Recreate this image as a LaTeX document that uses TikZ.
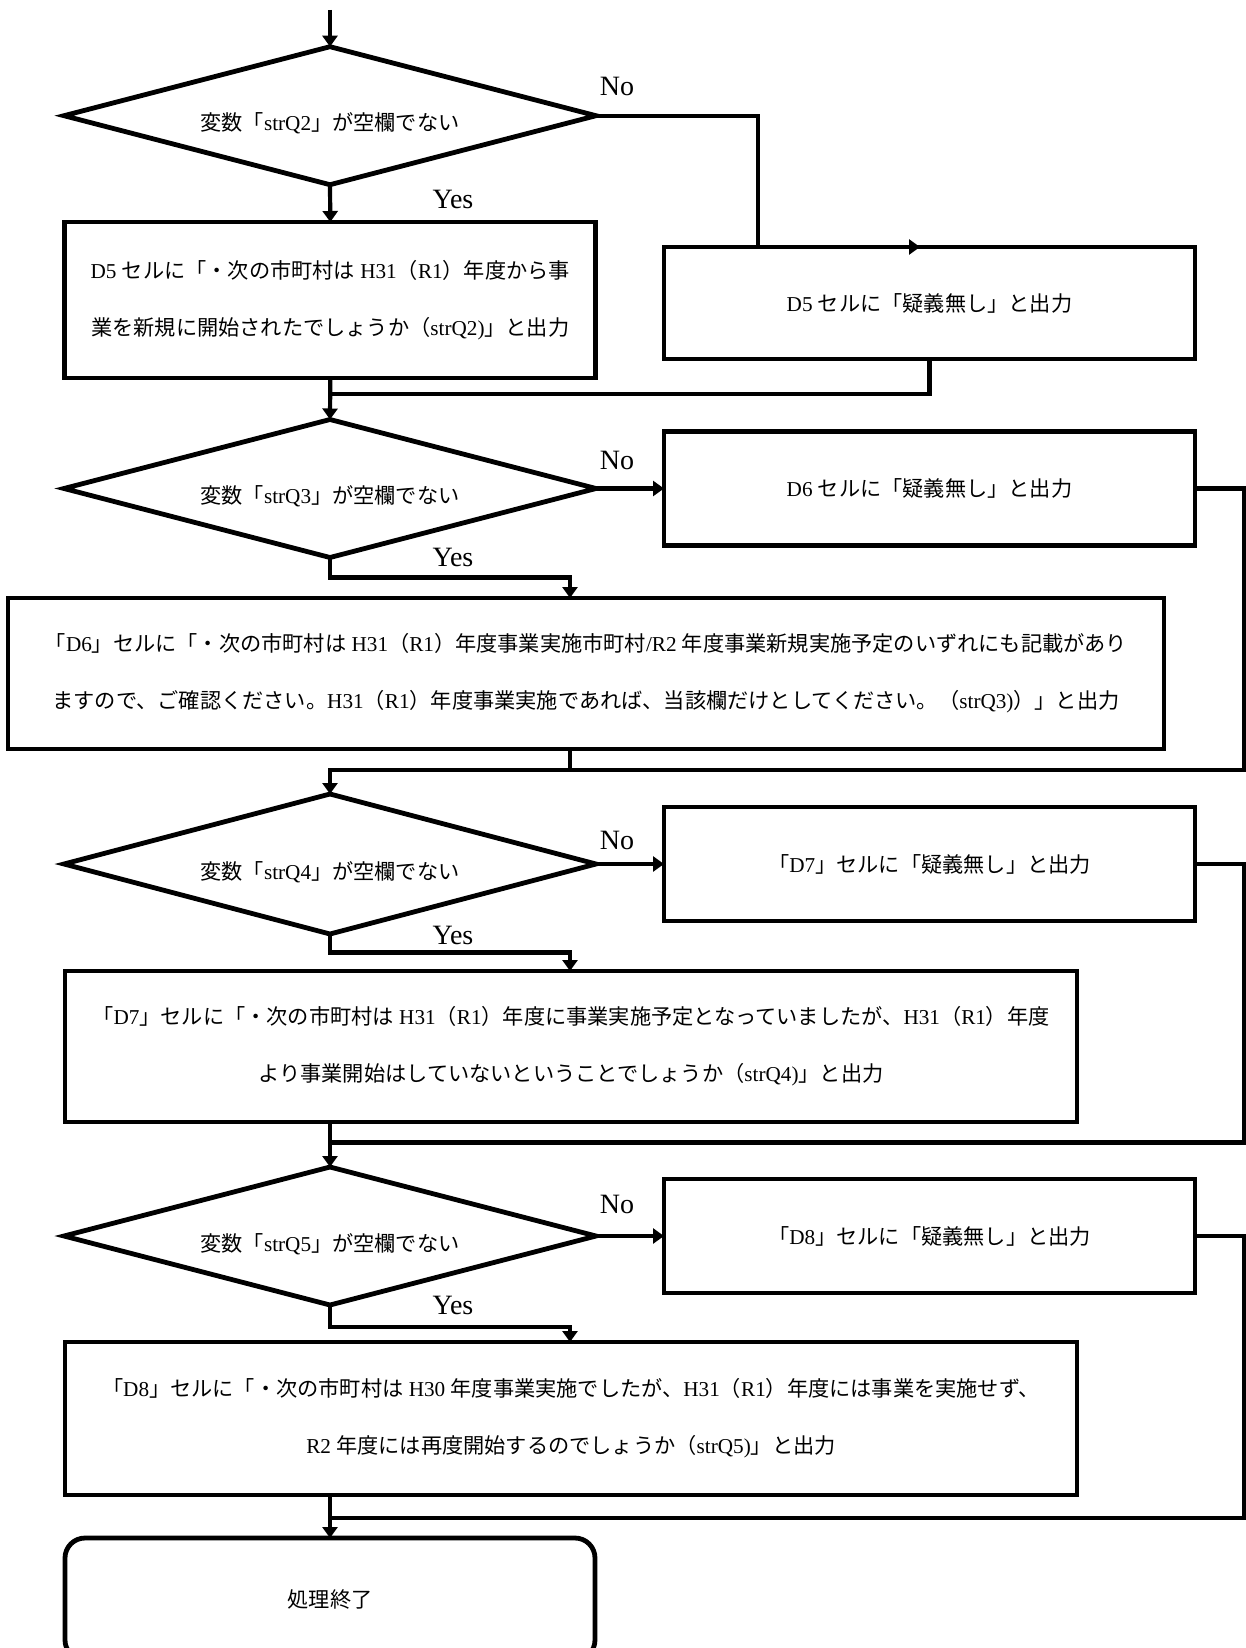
\documentclass[tikz,border=0pt]{standalone}
\usepackage{fontspec}
\setmainfont{Liberation Serif}
\newfontfamily\cjkfont{Noto Sans CJK JP}
\newfontfamily\latfont{Liberation Serif}
\usetikzlibrary{shapes.geometric,arrows.meta}
% automatic font switching between Latin and CJK characters
\XeTeXinterchartokenstate=1
\newXeTeXintercharclass\cjkc
\newcount\mycnt
\mycnt="3000
\loop
  \XeTeXcharclass\mycnt=\cjkc
  \ifnum\mycnt<"9FFF \advance\mycnt by 1 \repeat
\mycnt="FF00
\loop
  \XeTeXcharclass\mycnt=\cjkc
  \ifnum\mycnt<"FFEF \advance\mycnt by 1 \repeat
\XeTeXinterchartoks 0 \cjkc = {\cjkfont}
\XeTeXinterchartoks 4095 \cjkc = {\cjkfont}
\XeTeXinterchartoks \cjkc 0 = {\latfont}
\XeTeXinterchartoks \cjkc 4095 = {\latfont}
\newcommand\boxfont{\fontsize{21.2}{57}\selectfont}
\newcommand\ynfont{\fontsize{28}{30}\selectfont}
\tikzset{
  box/.style={draw, rectangle, line width=4.8pt, inner sep=0pt, outer sep=0pt, align=center, font=\boxfont},
  dia/.style={draw, diamond, aspect=3.85, line width=4.8pt, inner sep=0pt, outer sep=0pt,
              minimum width=532pt, minimum height=138pt, text height=30pt, text depth=0pt, font=\boxfont},
  term/.style={box, rounded corners=20pt},
  conn/.style={line width=4.2pt},
  arr/.style={conn, -{Triangle[length=11pt,width=15pt]}},
  yn/.style={font=\ynfont, inner sep=0pt, anchor=base}
}
\begin{document}
\begin{tikzpicture}[x=1pt,y=-1pt]
\useasboundingbox (0,0) rectangle (1246,1648);
\clip (0,0) rectangle (1246,1648);
% ---- section 1
\node[dia] (d1) at (330,115.7) {変数「strQ2」が空欄でない};
\node[box, minimum width=531pt, minimum height=156pt] (b1) at (330.3,300)
  {D5 セルに「・次の市町村は H31（R1）年度から事\\業を新規に開始されたでしょうか（strQ2)」と出力};
\node[box, minimum width=531pt, minimum height=112pt] (b2) at (929.5,303) {D5 セルに「疑義無し」と出力};
% ---- section 2
\node[dia] (d2) at (330,488.5) {変数「strQ3」が空欄でない};
\node[box, minimum width=531pt, minimum height=114pt] (b3) at (929.5,488.5) {D6 セルに「疑義無し」と出力};
\node[box, minimum width=1156pt, minimum height=151pt] (b4) at (586,673.5)
  {「D6」セルに「・次の市町村は H31（R1）年度事業実施市町村/R2 年度事業新規実施予定のいずれにも記載があり\\ますので、ご確認ください。H31（R1）年度事業実施であれば、当該欄だけとしてください。（strQ3)）」と出力};
% ---- section 3
\node[dia, minimum height=140pt] (d3) at (330,864) {変数「strQ4」が空欄でない};
\node[box, minimum width=531pt, minimum height=114pt] (b5) at (929.5,864) {「D7」セルに「疑義無し」と出力};
\node[box, minimum width=1012pt, minimum height=151pt] (b6) at (571,1046.5)
  {「D7」セルに「・次の市町村は H31（R1）年度に事業実施予定となっていましたが、H31（R1）年度\\より事業開始はしていないということでしょうか（strQ4)」と出力};
% ---- section 4
\node[dia] (d4) at (330,1236) {変数「strQ5」が空欄でない};
\node[box, minimum width=531pt, minimum height=114pt] (b7) at (929.5,1236) {「D8」セルに「疑義無し」と出力};
\node[box, minimum width=1012pt, minimum height=153pt] (b8) at (571,1418.5)
  {「D8」セルに「・次の市町村は H30 年度事業実施でしたが、H31（R1）年度には事業を実施せず、\\R2 年度には再度開始するのでしょうか（strQ5)」と出力};
\node[term, minimum width=530pt, minimum height=122pt] (t) at (330,1599) {処理終了};
% ---- labels
\node[yn] (no1) at (617,96) {No};
\node[yn] (yes1) at (453,208) {Yes};
\node[yn] (no2) at (617,469) {No};
\node[yn] (yes2) at (453,566) {Yes};
\node[yn] (no3) at (617,849) {No};
\node[yn] (yes3) at (453,944) {Yes};
\node[yn] (no4) at (617,1213) {No};
\node[yn] (yes4) at (453,1314) {Yes};
% ---- connectors
\coordinate (s0) at (330,10);
\draw[arr] (s0) -- (d1.north);
\draw[arr] (d1.south) -- (b1.north);
\coordinate (n1) at (758,247);
\coordinate (n1e) at (920,247);
\draw[arr] (d1.east) -| (n1) -- (n1e);
\coordinate (m1) at (330,394);
\draw[conn] (b2.south) |- (m1);
\draw[arr] (b1.south) -- (d2.north);

\draw[arr] (d2.east) -- (b3.west);
\coordinate (y2) at (570,577.5);
\draw[arr] (d2.south) |- (y2) -- (y2 |- b4.north);
\coordinate (m2) at (330,770);
\coordinate (r2) at (1243.8,770);
\draw[conn] (b4.south -| y2) -- (y2 |- m2);
\draw[arr] (b3.east) -| (r2) -- (m2) -- (d3.north);

\draw[arr] (d3.east) -- (b5.west);
\coordinate (y3) at (570,952.5);
\draw[arr] (d3.south) |- (y3) -- (y3 |- b6.north);
\coordinate (m3) at (330,1142.5);
\coordinate (r3) at (1243.8,1142.5);
\draw[conn] (b5.east) -| (r3) -- (m3);
\draw[arr] (b6.south -| m3) -- (d4.north);

\draw[arr] (d4.east) -- (b7.west);
\coordinate (y4) at (570,1327);
\draw[arr] (d4.south) |- (y4) -- (y4 |- b8.north);
\coordinate (m4) at (330,1517.7);
\coordinate (r4) at (1243.8,1517.7);
\draw[conn] (b7.east) -| (r4) -- (m4);
\draw[arr] (b8.south -| m4) -- (t.north);
\end{tikzpicture}
\end{document}
